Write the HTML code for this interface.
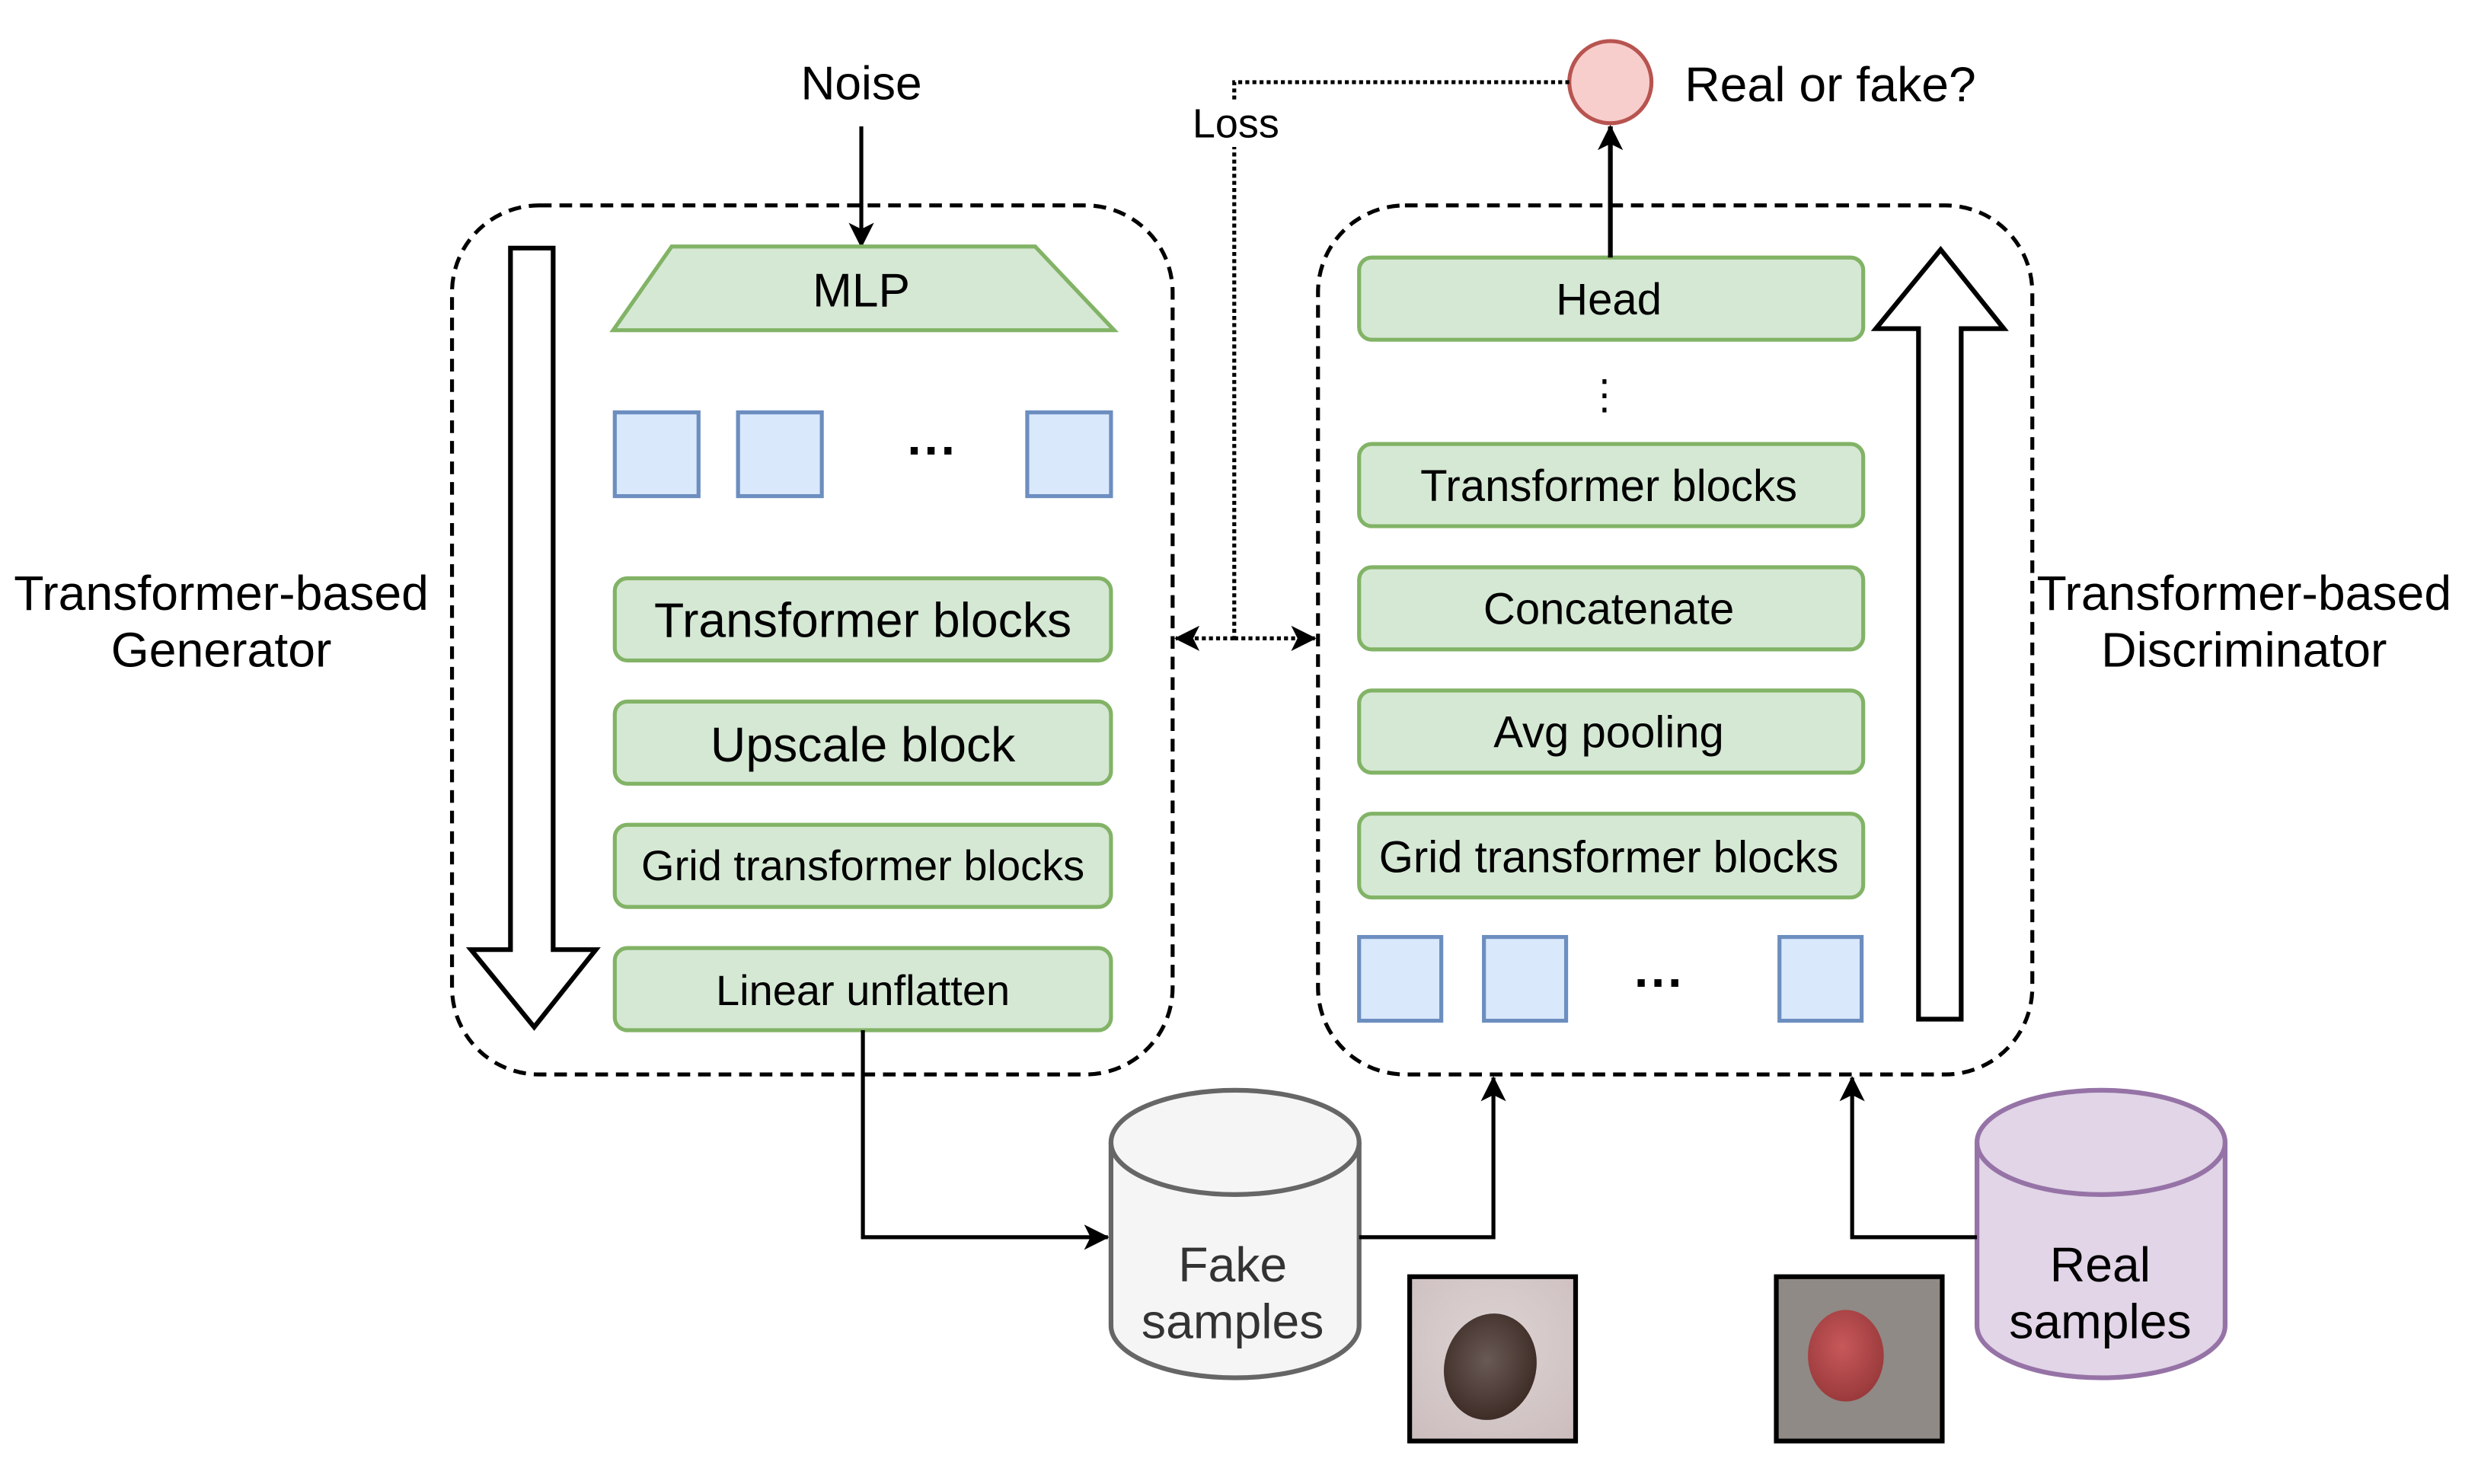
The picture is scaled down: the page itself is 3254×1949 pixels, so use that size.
<!DOCTYPE html>
<html><head><meta charset="utf-8"><style>html,body{margin:0;padding:0;background:#fff}svg{display:block}</style></head>
<body>
<svg width="3254" height="1949" viewBox="0 0 1568 939.2" xmlns="http://www.w3.org/2000/svg" font-family="'Liberation Sans', Arial, sans-serif">
<defs>
<marker id="ah2" markerWidth="16" markerHeight="16" refX="15" refY="8" orient="auto" markerUnits="userSpaceOnUse" viewBox="0 0 16 16"><path d="M0,0 L16,8 L0,16 L4,8 Z" fill="#000"/></marker>
<radialGradient id="fakebg" cx="0.5" cy="0.4" r="0.8"><stop offset="0" stop-color="#ddd3d3"/><stop offset="1" stop-color="#cbbcbc"/></radialGradient>
<radialGradient id="fakeblob" cx="0.45" cy="0.45" r="0.6"><stop offset="0" stop-color="#6a5a55"/><stop offset="1" stop-color="#3b2a24"/></radialGradient>
<radialGradient id="realblob" cx="0.45" cy="0.4" r="0.6"><stop offset="0" stop-color="#c8585a"/><stop offset="1" stop-color="#9a3a3c"/></radialGradient>
</defs>

<text x="545" y="63" font-size="30" text-anchor="middle">Noise</text>
<line x1="545" y1="80" x2="545" y2="156" stroke="#000" stroke-width="2.5" marker-end="url(#ah2)"/>

<rect x="286" y="130" width="456" height="550" rx="55" fill="none" stroke="#000" stroke-width="2.5" stroke-dasharray="8,5"/>
<polygon points="425,156 655,156 705,209 388,209" fill="#d5e8d4" stroke="#82b366" stroke-width="2.5"/>
<text x="545" y="194" font-size="30" text-anchor="middle">MLP</text>
<g fill="#dae8fc" stroke="#6c8ebf" stroke-width="2.5">
<rect x="389" y="261" width="53" height="53"/><rect x="467" y="261" width="53" height="53"/><rect x="650" y="261" width="53" height="53"/>
</g>
<text x="590" y="296" font-size="32" text-anchor="middle" font-weight="bold">···</text>
<g fill="#d5e8d4" stroke="#82b366" stroke-width="2.5">
<rect x="389" y="366" width="314" height="52" rx="8"/>
<rect x="389" y="444" width="314" height="52" rx="8"/>
<rect x="389" y="522" width="314" height="52" rx="8"/>
<rect x="389" y="600" width="314" height="52" rx="8"/>
</g>
<text x="546" y="403" font-size="31" text-anchor="middle">Transformer blocks</text>
<text x="546" y="482" font-size="31" text-anchor="middle">Upscale block</text>
<text x="546" y="557" font-size="27" text-anchor="middle">Grid transformer blocks</text>
<text x="546" y="636" font-size="27" text-anchor="middle">Linear unflatten</text>
<polygon points="323,157 350,157 350,601 377,601 338,650 298,601 323,601" fill="#fff" stroke="#000" stroke-width="3"/>
<text x="140" y="386" font-size="31" text-anchor="middle">Transformer-based</text>
<text x="140" y="422" font-size="31" text-anchor="middle">Generator</text>

<rect x="834" y="130" width="452" height="550" rx="55" fill="none" stroke="#000" stroke-width="2.5" stroke-dasharray="8,5"/>
<g fill="#d5e8d4" stroke="#82b366" stroke-width="2.5">
<rect x="860" y="163" width="319" height="52" rx="8"/>
<rect x="860" y="281" width="319" height="52" rx="8"/>
<rect x="860" y="359" width="319" height="52" rx="8"/>
<rect x="860" y="437" width="319" height="52" rx="8"/>
<rect x="860" y="515" width="319" height="53" rx="8"/>
</g>
<text x="1018" y="199" font-size="28" text-anchor="middle">Head</text>
<text x="1018" y="317" font-size="28" text-anchor="middle">Transformer blocks</text>
<text x="1018" y="395" font-size="28" text-anchor="middle">Concatenate</text>
<text x="1018" y="473" font-size="28" text-anchor="middle">Avg pooling</text>
<text x="1018" y="552" font-size="28" text-anchor="middle">Grid transformer blocks</text>
<g fill="#000"><rect x="1014" y="240" width="2.5" height="3"/><rect x="1014" y="249" width="2.5" height="3"/><rect x="1014" y="258" width="2.5" height="3"/></g>
<g fill="#dae8fc" stroke="#6c8ebf" stroke-width="2.5">
<rect x="860" y="593" width="52" height="53"/><rect x="939" y="593" width="52" height="53"/><rect x="1126" y="593" width="52" height="53"/>
</g>
<text x="1050" y="633" font-size="32" text-anchor="middle" font-weight="bold">···</text>
<polygon points="1214,645 1241,645 1241,208 1268,208 1228,158 1187,208 1214,208" fill="#fff" stroke="#000" stroke-width="3"/>
<text x="1420" y="386" font-size="31" text-anchor="middle">Transformer-based</text>
<text x="1420" y="422" font-size="31" text-anchor="middle">Discriminator</text>

<line x1="1019" y1="163" x2="1019" y2="80" stroke="#000" stroke-width="3" marker-end="url(#ah2)"/>
<circle cx="1019" cy="52" r="26" fill="#f8cecc" stroke="#b85450" stroke-width="2.5"/>
<text x="1066" y="64" font-size="31">Real or fake?</text>

<polyline points="993,52 781,52 781,404" fill="none" stroke="#000" stroke-width="2.5" stroke-dasharray="2.5,2"/>
<line x1="781" y1="404" x2="744" y2="404" stroke="#000" stroke-width="2.5" stroke-dasharray="2.5,2" marker-end="url(#ah2)"/>
<line x1="781" y1="404" x2="832" y2="404" stroke="#000" stroke-width="2.5" stroke-dasharray="2.5,2" marker-end="url(#ah2)"/>
<rect x="745" y="63" width="74" height="30" fill="#fff"/>
<text x="782" y="87" font-size="26" text-anchor="middle">Loss</text>

<polyline points="546,652 546,783 701,783" fill="none" stroke="#000" stroke-width="2.5" marker-end="url(#ah2)"/>
<path d="M703,723 A78.5,33 0 0 1 860,723 L860,839 A78.5,33 0 0 1 703,839 Z" fill="#f5f5f5" stroke="#666" stroke-width="3"/>
<path d="M703,723 A78.5,33 0 0 0 860,723" fill="none" stroke="#666" stroke-width="3"/>
<text x="780" y="811" font-size="31" text-anchor="middle" fill="#333">Fake</text>
<text x="780" y="847" font-size="31" text-anchor="middle" fill="#333">samples</text>
<polyline points="860,783 945,783 945,682" fill="none" stroke="#000" stroke-width="2.5" marker-end="url(#ah2)"/>

<path d="M1251,723 A78.5,33 0 0 1 1408,723 L1408,839 A78.5,33 0 0 1 1251,839 Z" fill="#e1d5e7" stroke="#9673a6" stroke-width="3"/>
<path d="M1251,723 A78.5,33 0 0 0 1408,723" fill="none" stroke="#9673a6" stroke-width="3"/>
<text x="1329" y="811" font-size="31" text-anchor="middle">Real</text>
<text x="1329" y="847" font-size="31" text-anchor="middle">samples</text>
<polyline points="1251,783 1172,783 1172,682" fill="none" stroke="#000" stroke-width="2.5" marker-end="url(#ah2)"/>

<rect x="892" y="808" width="105" height="104" fill="url(#fakebg)" stroke="#000" stroke-width="3"/>
<ellipse cx="943" cy="865" rx="29" ry="34" fill="url(#fakeblob)" transform="rotate(15 943 865)"/>
<rect x="1124" y="808" width="105" height="104" fill="#8f8a85" stroke="#000" stroke-width="3"/>
<ellipse cx="1168" cy="858" rx="24" ry="29" fill="url(#realblob)"/>
</svg>
</body></html>
